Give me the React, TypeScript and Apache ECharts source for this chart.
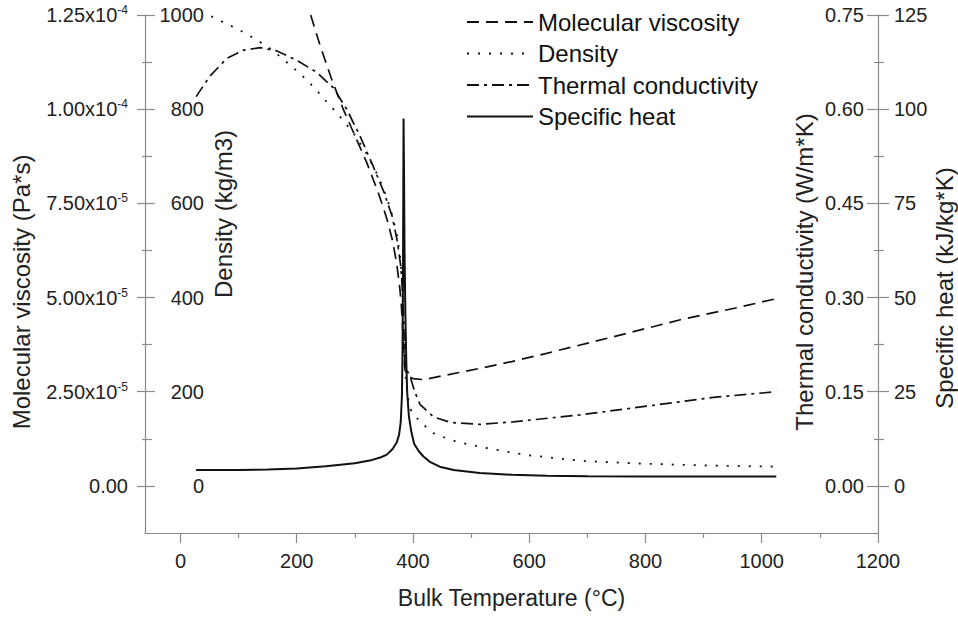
import { useEffect, useRef } from 'react';
import * as echarts from 'echarts';

const FONT = '"Liberation Sans", Arial, Helvetica, sans-serif';
const INK = '#111111';
const AXIS = '#8a8a8a';
const LABEL = '#222222';

// ---- data: [temperature °C, value] ----
const viscosityData: [number, number][] = [
  [224, 1.25e-4], [240, 1.17e-4], [260, 1.08e-4], [280, 1.0e-4], [300, 9.3e-5], [320, 8.6e-5],
  [340, 7.8e-5], [355, 7.1e-5], [365, 6.5e-5], [372, 5.9e-5], [377, 5.3e-5], [380, 4.8e-5],
  [382, 4.3e-5], [384, 3.7e-5], [386, 3.1e-5], [390, 2.93e-5], [400, 2.85e-5], [418, 2.82e-5],
  [450, 2.92e-5], [515, 3.12e-5], [570, 3.3e-5], [630, 3.52e-5], [745, 3.96e-5], [860, 4.41e-5],
  [960, 4.74e-5], [1025, 4.97e-5],
];
const densityData: [number, number][] = [
  [35, 1005], [50, 999], [65, 990], [85, 978], [100, 969], [120, 955], [150, 933], [175, 908],
  [195, 887], [212, 868], [230, 846], [246, 823], [263, 800], [280, 776], [300, 745], [320, 706],
  [340, 658], [355, 612], [365, 572], [372, 535], [377, 495], [380, 460], [382, 420], [384, 350],
  [386, 270], [388, 220], [391, 190], [395, 165], [400, 152], [410, 140], [418, 130], [435, 112],
  [458, 101], [475, 94], [515, 83], [560, 73], [600, 65], [690, 53], [800, 47], [915, 43], [1025, 41],
];
const conductivityData: [number, number][] = [
  [27, 0.62], [50, 0.652], [80, 0.681], [108, 0.694], [137, 0.698], [165, 0.693], [200, 0.678],
  [234, 0.659], [263, 0.634], [286, 0.6], [309, 0.557], [332, 0.508], [350, 0.468], [364, 0.43],
  [373, 0.39], [379, 0.35], [382, 0.31], [384, 0.26], [386, 0.2], [389, 0.185], [395, 0.175],
  [403, 0.15], [412, 0.13], [435, 0.11], [465, 0.101], [515, 0.098], [572, 0.102], [687, 0.113],
  [802, 0.127], [917, 0.141], [1025, 0.15],
];
const specificHeatData: [number, number][] = [
  [27, 4.2], [100, 4.2], [150, 4.35], [200, 4.6], [250, 5.2], [300, 6.0], [330, 6.9], [345, 7.6],
  [355, 8.3], [365, 9.8], [372, 11.5], [376, 13.5], [379, 17], [381, 24], [382, 35], [382.8, 55],
  [383.4, 80], [383.8, 97.5], [384.5, 85], [385.5, 62], [387, 45], [388.5, 33], [390, 25],
  [393, 18.5], [397, 14.5], [402, 11.2], [410, 9.2], [418, 7.8], [430, 6.3], [446, 5.1], [470, 4.2],
  [515, 3.4], [570, 2.95], [630, 2.68], [700, 2.56], [800, 2.49], [900, 2.47], [1025, 2.47],
];

const seriesNames = ['Molecular viscosity', 'Density', 'Thermal conductivity', 'Specific heat'];

// ---- axes ----
const tempRange = [-61, 1200];
const tempTicks = [0, 200, 400, 600, 800, 1000, 1200];
const tempMinorTicks = [100, 300, 500, 700, 900, 1100];
const viscosityRange = [-1.25e-5, 1.25e-4];
const viscosityTicks = [0, 2.5e-5, 5e-5, 7.5e-5, 1e-4, 1.25e-4];
const viscosityMinorTicks = [1.25e-5, 3.75e-5, 6.25e-5, 8.75e-5, 1.125e-4];
const densityRange = [-100, 1000];
const densityTicks = [0, 200, 400, 600, 800, 1000];
const conductivityRange = [-0.075, 0.75];
const conductivityTicks = [0, 0.15, 0.3, 0.45, 0.6, 0.75];
const conductivityMinorTicks = [0.075, 0.225, 0.375, 0.525, 0.675];
const specificHeatRange = [-12.5, 125];
const specificHeatTicks = [0, 25, 50, 75, 100, 125];

const titles = {
  x: 'Bulk Temperature (°C)',
  viscosity: 'Molecular viscosity (Pa*s)',
  density: 'Density (kg/m3)',
  conductivity: 'Thermal conductivity (W/m*K)',
  specificHeat: 'Specific heat (kJ/kg*K)',
};

const sciLabel = (v: number) => {
  if (Math.abs(v) < 1e-15) return '{m|0.00}';
  const exp = Math.floor(Math.log10(Math.abs(v)) + 1e-9);
  const mant = v / Math.pow(10, exp);
  return `{m|${mant.toFixed(2)}x10}{s|${exp}}`;
};

const tickLine = { color: AXIS, width: 1.2 };
const labelBase = { color: LABEL, fontSize: 20, fontFamily: FONT };

function yAxis(range: number[], position: string, extra: any) {
  return {
    type: 'value',
    min: range[0],
    max: range[1],
    position,
    splitLine: { show: false },
    axisLine: { show: false, onZero: false },
    axisTick: { show: false },
    axisLabel: { show: false },
    ...extra,
  };
}

export default function App() {
  const ref = useRef<HTMLDivElement>(null);
  useEffect(() => {
    if (!ref.current) return;
    const chart = echarts.init(ref.current, undefined, { renderer: 'svg' });
    const option: any = {
      animation: false,
      backgroundColor: '#ffffff',
      grid: { left: 145, right: 80, top: 15, bottom: 85, containLabel: false, outerBoundsMode: 'none' },
      legend: {
        orient: 'vertical',
        left: 461,
        top: 5,
        itemWidth: 66,
        itemHeight: 14,
        itemGap: 7.5,
        data: seriesNames,
        itemStyle: { opacity: 0 },
        textStyle: { fontSize: 24, color: INK, fontFamily: FONT },
      },
      xAxis: [
        {
          type: 'value',
          min: tempRange[0],
          max: tempRange[1],
          position: 'bottom',
          splitLine: { show: false },
          axisLine: { show: true, onZero: false, lineStyle: tickLine },
          axisTick: { show: true, length: 10, customValues: tempTicks, lineStyle: tickLine },
          axisLabel: { show: true, customValues: tempTicks, margin: 18, formatter: (v: number) => String(v), ...labelBase },
          name: titles.x,
          nameLocation: 'middle',
          nameGap: 53,
          nameTextStyle: { fontSize: 23, color: LABEL, fontFamily: FONT },
        },
        {
          type: 'value',
          min: tempRange[0],
          max: tempRange[1],
          position: 'bottom',
          splitLine: { show: false },
          axisLine: { show: false, onZero: false },
          axisTick: { show: true, length: 5, customValues: tempMinorTicks, lineStyle: tickLine },
          axisLabel: { show: false },
        },
      ],
      yAxis: [
        yAxis(viscosityRange, 'left', {
          axisLine: { show: true, onZero: false, lineStyle: tickLine },
          axisTick: { show: true, inside: false, length: 8, customValues: viscosityTicks, lineStyle: tickLine },
          axisLabel: {
            show: true,
            customValues: viscosityTicks,
            margin: 17,
            formatter: sciLabel,
            ...labelBase,
            rich: {
              m: { fontSize: 20, fontFamily: FONT, color: LABEL, lineHeight: 22 },
              s: { fontSize: 12, fontFamily: FONT, color: LABEL, lineHeight: 12, verticalAlign: 'top' },
            },
          },
        }),
        yAxis(densityRange, 'left', {
          axisTick: { show: true, inside: true, length: 10, customValues: densityTicks, lineStyle: tickLine },
          axisLabel: {
            show: true,
            inside: true,
            align: 'right',
            customValues: densityTicks,
            margin: 59,
            formatter: (v: number) => String(v),
            ...labelBase,
          },
        }),
        yAxis(viscosityRange, 'left', {
          axisTick: { show: true, inside: false, length: 3, customValues: viscosityMinorTicks, lineStyle: tickLine },
        }),
        yAxis(viscosityRange, 'left', {
          axisTick: { show: true, inside: true, length: 7, customValues: viscosityMinorTicks, lineStyle: tickLine },
        }),
        yAxis(conductivityRange, 'right', {
          axisLine: { show: true, onZero: false, lineStyle: tickLine },
          axisTick: { show: true, inside: true, length: 11, customValues: conductivityTicks, lineStyle: tickLine },
          axisLabel: {
            show: true,
            inside: true,
            align: 'right',
            customValues: conductivityTicks,
            margin: 14,
            formatter: (v: number) => v.toFixed(2),
            ...labelBase,
          },
        }),
        yAxis(specificHeatRange, 'right', {
          axisTick: { show: true, inside: false, length: 11, customValues: specificHeatTicks, lineStyle: tickLine },
          axisLabel: {
            show: true,
            customValues: specificHeatTicks,
            margin: 16,
            formatter: (v: number) => String(v),
            ...labelBase,
          },
        }),
        yAxis(conductivityRange, 'right', {
          axisTick: { show: true, inside: false, length: 6, customValues: conductivityMinorTicks, lineStyle: tickLine },
        }),
        yAxis(conductivityRange, 'right', {
          axisTick: { show: true, inside: true, length: 4, customValues: conductivityMinorTicks, lineStyle: tickLine },
        }),
      ],
      series: [
        {
          name: seriesNames[0],
          type: 'line',
          xAxisIndex: 0,
          yAxisIndex: 0,
          data: viscosityData,
          symbol: 'none',
          lineStyle: { color: INK, width: 1.7, type: [12, 7] },
          itemStyle: { color: INK },
        },
        {
          name: seriesNames[1],
          type: 'line',
          xAxisIndex: 0,
          yAxisIndex: 1,
          data: densityData,
          symbol: 'none',
          lineStyle: { color: INK, width: 1.8, type: [2, 9] },
          itemStyle: { color: INK },
        },
        {
          name: seriesNames[2],
          type: 'line',
          xAxisIndex: 0,
          yAxisIndex: 4,
          data: conductivityData,
          symbol: 'none',
          lineStyle: { color: INK, width: 1.7, type: [12, 5, 3, 5] },
          itemStyle: { color: INK },
        },
        {
          name: seriesNames[3],
          type: 'line',
          xAxisIndex: 0,
          yAxisIndex: 5,
          data: specificHeatData,
          symbol: 'none',
          lineStyle: { color: INK, width: 2 },
          itemStyle: { color: INK },
        },
      ],
      graphic: [
        { type: 'text', x: 21, y: 292, rotation: Math.PI / 2, style: { text: titles.viscosity, fontSize: 24, fontFamily: FONT, fill: LABEL, align: 'center', verticalAlign: 'middle' } },
        { type: 'text', x: 223, y: 214, rotation: Math.PI / 2, style: { text: titles.density, fontSize: 24, fontFamily: FONT, fill: LABEL, align: 'center', verticalAlign: 'middle' } },
        { type: 'text', x: 804, y: 272, rotation: Math.PI / 2, style: { text: titles.conductivity, fontSize: 24, fontFamily: FONT, fill: LABEL, align: 'center', verticalAlign: 'middle' } },
        { type: 'text', x: 944, y: 288, rotation: Math.PI / 2, style: { text: titles.specificHeat, fontSize: 24, fontFamily: FONT, fill: LABEL, align: 'center', verticalAlign: 'middle' } },
      ],
    };
    chart.setOption(option);
    return () => chart.dispose();
  }, []);
  return (
    <div
      ref={ref}
      style={{ position: 'fixed', left: 0, top: 0, width: 958, height: 618, background: '#fff' }}
    />
  );
}
